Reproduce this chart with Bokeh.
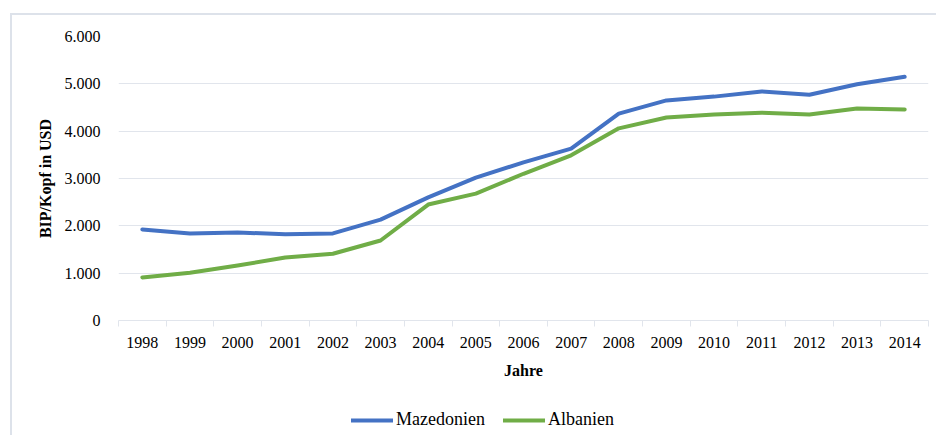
from bokeh.plotting import figure
from bokeh.models import FixedTicker, Legend, LegendItem, ColumnDataSource, Range1d
from bokeh.layouts import column
from bokeh.embed import file_html
from bokeh.resources import INLINE

years = ["1998", "1999", "2000", "2001", "2002", "2003", "2004", "2005", "2006",
         "2007", "2008", "2009", "2010", "2011", "2012", "2013", "2014"]
mazedonien = [1925, 1840, 1860, 1820, 1840, 2130, 2600, 3020, 3340, 3630,
              4370, 4650, 4730, 4840, 4770, 4990, 5150]
albanien = [910, 1010, 1160, 1330, 1410, 1690, 2450, 2680, 3100, 3490,
            4060, 4290, 4350, 4390, 4350, 4480, 4460]
y_ticks = [0, 1000, 2000, 3000, 4000, 5000, 6000]
y_tick_labels = ["0", "1.000", "2.000", "3.000", "4.000", "5.000", "6.000"]
series_names = ["Mazedonien", "Albanien"]
series_colors = ["#4472C4", "#70AD47"]

idx = list(range(len(years)))
src = ColumnDataSource(dict(x=idx, m=mazedonien, a=albanien))

FONT = "Liberation Serif"
GRID = "#e1e5ec"

p = figure(width=924, height=390, output_backend="svg", toolbar_location=None,
           x_range=Range1d(-0.5, len(years) - 0.5), y_range=Range1d(0, 6000),
           min_border_left=106, min_border_right=8, min_border_top=21, min_border_bottom=85)
p.outline_line_color = None

p.line("x", "m", source=src, line_color=series_colors[0], line_width=4, line_cap="round", line_join="round")
p.line("x", "a", source=src, line_color=series_colors[1], line_width=4, line_cap="round", line_join="round")

# x axis
p.xaxis.ticker = FixedTicker(ticks=idx, minor_ticks=[i - 0.5 for i in range(len(years) + 1)])
p.xaxis.major_label_overrides = {i: y for i, y in zip(idx, years)}
p.xaxis.major_tick_out = 0
p.xaxis.major_tick_in = 0
p.xaxis.minor_tick_out = 6
p.xaxis.minor_tick_in = 0
p.xaxis.minor_tick_line_color = GRID
p.xaxis.axis_line_color = GRID
p.xaxis.major_label_text_font = FONT
p.xaxis.major_label_text_font_size = "16px"
p.xaxis.major_label_text_color = "#000000"
p.xaxis.major_label_standoff = 10
p.xaxis.axis_label = "Jahre"
p.xaxis.axis_label_text_font = FONT
p.xaxis.axis_label_text_font_style = "bold"
p.xaxis.axis_label_text_font_size = "16px"
p.xaxis.axis_label_text_color = "#000000"
p.xaxis.axis_label_standoff = 11
p.xgrid.grid_line_color = None

# y axis
p.yaxis.ticker = FixedTicker(ticks=y_ticks)
p.yaxis.major_label_overrides = {t: l for t, l in zip(y_ticks, y_tick_labels)}
p.yaxis.axis_line_color = None
p.yaxis.major_tick_line_color = None
p.yaxis.minor_tick_line_color = None
p.yaxis.major_label_text_font = FONT
p.yaxis.major_label_text_font_size = "16px"
p.yaxis.major_label_text_color = "#000000"
p.yaxis.major_label_standoff = 12
p.yaxis.axis_label = "BIP/Kopf in USD"
p.yaxis.axis_label_text_font = FONT
p.yaxis.axis_label_text_font_style = "bold"
p.yaxis.axis_label_text_font_size = "16px"
p.yaxis.axis_label_text_color = "#000000"
p.yaxis.axis_label_standoff = 8
p.ygrid.grid_line_color = GRID
p.ygrid.grid_line_width = 1

# legend strip below the chart (its series lie outside this strip's range, only the legend shows)
lf = figure(width=924, height=30, output_backend="svg", toolbar_location=None,
            x_range=Range1d(0, 1), y_range=Range1d(0, 1),
            min_border=0, min_border_left=0, min_border_right=0,
            min_border_top=0, min_border_bottom=0)
lf.axis.visible = False
lf.grid.visible = False
lf.outline_line_color = None
leg_renderers = [lf.line("x", col, source=src, line_color=c, line_width=4, line_cap="round")
                 for col, c in zip(["m", "a"], series_colors)]
legend = Legend(items=[LegendItem(label=n, renderers=[r]) for n, r in zip(series_names, leg_renderers)],
                orientation="horizontal", location=(233, 5),
                label_text_font=FONT, label_text_font_size="18px",
                label_text_color="#000000", glyph_width=42, label_standoff=3,
                spacing=18, border_line_color=None, background_fill_alpha=0,
                margin=0, padding=0)
lf.add_layout(legend, "center")

layout = column(p, lf, spacing=0)
layout.margin = (13, 0, 0, 10)
layout.styles = {"border-left": "2px solid #dde2ea", "border-top": "2px solid #dde2ea"}

open("out.html", "w").write(file_html(layout, INLINE))
